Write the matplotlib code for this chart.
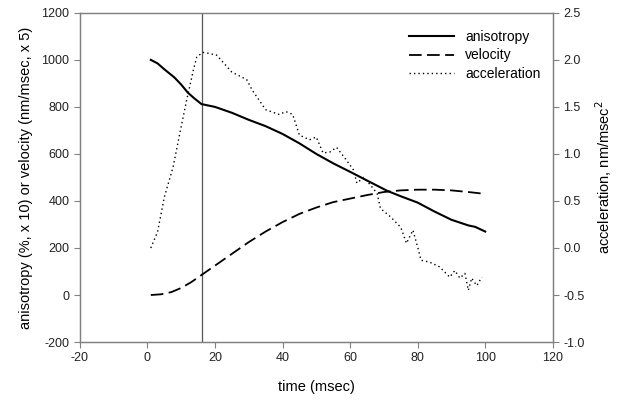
import numpy as np
from matplotlib import pyplot as plt

plt.rcParams['font.family'] = ['Liberation Sans', 'DejaVu Sans']
plt.rcParams['axes.unicode_minus'] = False

# anisotropy (%, x 10)
aniso_t = [1, 3, 5, 8, 10, 12, 14, 16, 20, 25, 30, 35, 40, 45, 50, 55, 60, 65,
           71, 75, 80, 85, 90, 95, 97, 100]
aniso_v = [1000, 985, 960, 925, 895, 860, 835, 812, 800, 775, 745, 718, 685,
           645, 600, 560, 524, 487, 443, 420, 393, 355, 320, 296, 290, 270]

# velocity (nm/msec, x 5)
vel_t = [1, 4, 7, 10, 13, 16, 20, 25, 30, 35, 40, 45, 50, 55, 60, 65, 70, 75,
         80, 85, 90, 95, 100]
vel_v = [0, 3, 12, 30, 55, 85, 125, 175, 225, 270, 310, 345, 372, 395, 410,
         425, 438, 445, 448, 448, 445, 438, 430]

# acceleration (nm/msec^2)
acc_t = [1, 3, 5, 7.6, 9.6, 11.6, 13.6, 14.6, 16.4, 18, 20.5, 25, 29.4, 31, 35,
         39, 41, 43, 45, 48, 50, 52, 54, 56, 59, 61, 62, 64, 66, 68, 69, 72,
         75, 76.7, 78.6, 80, 81, 83.5, 86.5, 89.5, 91, 92.5, 94, 95, 96, 97.5,
         99]
acc_v = [0.0, 0.17, 0.54, 0.86, 1.22, 1.57, 1.89, 2.03, 2.08, 2.07, 2.05, 1.87,
         1.79, 1.68, 1.47, 1.42, 1.45, 1.42, 1.20, 1.15, 1.18, 1.01, 1.02, 1.07,
         0.93, 0.83, 0.69, 0.75, 0.67, 0.58, 0.42, 0.33, 0.22, 0.05, 0.19,
         0.01, -0.13, -0.15, -0.20, -0.31, -0.24, -0.32, -0.27, -0.45, -0.32,
         -0.40, -0.31]

marker_t = 16.3

fig = plt.figure(figsize=(6.19, 4.01), dpi=100)
ax = fig.add_axes([0.129, 0.147, 0.764, 0.821])
ax2 = ax.twinx()

spine_col = '#808080'
for a in (ax, ax2):
    for s in a.spines.values():
        s.set_color(spine_col)
        s.set_linewidth(0.9)
    a.tick_params(direction='out', length=4, color=spine_col, labelsize=9,
                  labelcolor='#222222')

ax.axvline(marker_t, color='#555555', lw=0.9)

l1, = ax.plot(aniso_t, aniso_v, color='black', lw=1.5, label='anisotropy')
l2, = ax.plot(vel_t, vel_v, color='black', lw=1.3, dashes=(7, 3),
              label='velocity')
l3, = ax2.plot(acc_t, acc_v, color='black', lw=1.0, ls=(0, (1, 2.2)),
               label='acceleration')

ax.set_xlim(-20, 120)
ax.set_ylim(-200, 1200)
ax.set_xticks(np.arange(-20, 121, 20))
ax.set_yticks(np.arange(-200, 1201, 200))
ax2.set_ylim(-1.0, 2.5)
ax2.set_yticks(np.arange(-1.0, 2.51, 0.5))
ax2.set_yticklabels(['%.1f' % v for v in np.arange(-1.0, 2.51, 0.5)])

ax.set_xlabel('time (msec)', fontsize=10.5, labelpad=11)
ax.set_ylabel('anisotropy (%, x 10) or velocity (nm/msec, x 5)', fontsize=10.5,
              labelpad=6)
ax2.set_ylabel('acceleration, nm/msec$^2$', fontsize=10.5, labelpad=6)

ax.legend(handles=[l1, l2, l3], loc='upper right', frameon=False,
          fontsize=10, handlelength=3.2, labelspacing=0.3,
          bbox_to_anchor=(1.0, 0.985))

fig.savefig('out.png', dpi=100)
